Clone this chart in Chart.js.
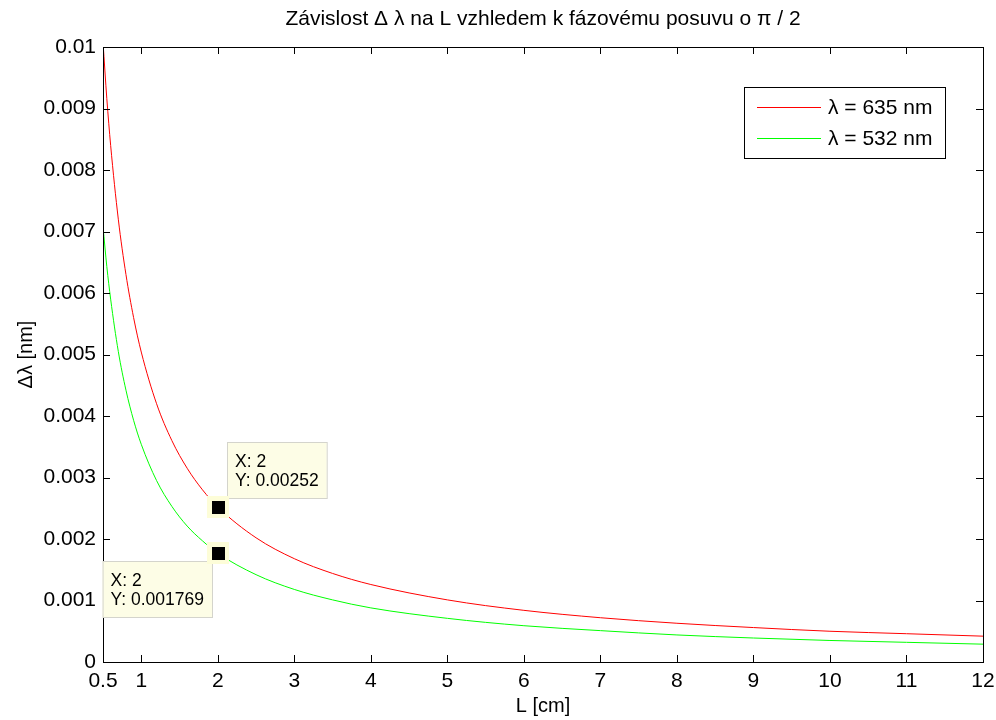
<!DOCTYPE html>
<html>
<head>
<meta charset="utf-8">
<script src="https://cdn.jsdelivr.net/npm/chart.js@4/dist/chart.umd.min.js"></script>
<style>
  html, body { margin: 0; padding: 0; background: #fff; }
  #wrap { width: 996px; height: 720px; }
</style>
</head>
<body>
<div id="wrap"><canvas id="myChart1" width="996" height="720"></canvas></div>
<script>
// L [cm]
const lengths = [0.5, 0.55, 0.6, 0.7, 0.8, 0.9, 1, 1.2, 1.4, 1.6, 1.8, 2, 2.5, 3, 3.5, 4, 5, 6, 7, 8, 9, 10, 11, 12];
// delta lambda [nm], 635 nm laser
const red635 = [0.01008, 0.00916, 0.0084, 0.0072, 0.0063, 0.0056, 0.00504, 0.0042, 0.0036, 0.00315, 0.0028, 0.00252,
    0.00202, 0.00168, 0.00144, 0.00126, 0.00101, 0.00084, 0.00072, 0.00063, 0.00056, 0.0005, 0.00046, 0.00042];
// delta lambda [nm], 532 nm laser
const green532 = [0.00708, 0.00643, 0.0059, 0.00505, 0.00442, 0.00393, 0.00354, 0.00295, 0.00253, 0.00221, 0.00197, 0.001769,
    0.00142, 0.00118, 0.00101, 0.00088, 0.00071, 0.00059, 0.00051, 0.00044, 0.00039, 0.00035, 0.00032, 0.00029];
const xTicks = [0.5, 1, 2, 3, 4, 5, 6, 7, 8, 9, 10, 11, 12];
const yTicks = [0, 0.001, 0.002, 0.003, 0.004, 0.005, 0.006, 0.007, 0.008, 0.009, 0.01];
// data tips at L = 2
const tipL = 2;

const FONT = '"Liberation Sans", Arial, sans-serif';
Chart.defaults.font.family = FONT;
Chart.defaults.color = '#000';

function toPoints(ys) {
    return lengths.map(function (x, i) { return { x: x, y: ys[i] }; });
}

// box, inner ticks, legend and data tips
const framePlugin = {
    id: 'frame',
    afterDatasetsDraw: function (chart) {
        const ctx = chart.ctx;
        const ca = chart.chartArea;
        const xs = chart.scales.x, ys = chart.scales.y;
        const tl = 7;
        ctx.save();
        ctx.strokeStyle = '#000';
        ctx.lineWidth = 1;
        ctx.beginPath();
        xTicks.forEach(function (v) {
            const px = Math.round(xs.getPixelForValue(v)) + 0.5;
            ctx.moveTo(px, ca.bottom); ctx.lineTo(px, ca.bottom - tl);
            ctx.moveTo(px, ca.top); ctx.lineTo(px, ca.top + tl);
        });
        yTicks.forEach(function (v) {
            const py = Math.round(ys.getPixelForValue(v)) + 0.5;
            ctx.moveTo(ca.left, py); ctx.lineTo(ca.left + tl, py);
            ctx.moveTo(ca.right, py); ctx.lineTo(ca.right - tl, py);
        });
        ctx.stroke();
        ctx.strokeRect(Math.round(ca.left) + 0.5, Math.round(ca.top) + 0.5,
            Math.round(ca.right - ca.left), Math.round(ca.bottom - ca.top));

        // legend
        const lx = ca.right - 239, ly = ca.top + 40, lw = 201, lh = 71;
        ctx.fillStyle = '#fff';
        ctx.fillRect(lx, ly, lw, lh);
        ctx.strokeRect(lx + 0.5, ly + 0.5, lw, lh);
        ctx.font = '21px ' + FONT;
        ctx.textBaseline = 'middle';
        chart.data.datasets.forEach(function (ds, i) {
            const y = ly + 20 + i * 31;
            ctx.strokeStyle = ds.borderColor;
            ctx.beginPath();
            ctx.moveTo(lx + 13, y + 0.5); ctx.lineTo(lx + 77, y + 0.5);
            ctx.stroke();
            ctx.fillStyle = '#000';
            ctx.fillText(ds.label, lx + 84, y + 1);
        });

        // data tips
        ctx.font = '17.5px ' + FONT;
        chart.data.datasets.forEach(function (ds, i) {
            const idx = lengths.indexOf(tipL);
            const val = ds.data[idx].y;
            const px = Math.round(xs.getPixelForValue(tipL));
            const py = Math.round(ys.getPixelForValue(val));
            const lines = ['X: ' + tipL, 'Y: ' + val];
            const w = Math.max.apply(null, lines.map(function (t) { return ctx.measureText(t).width; })) + 16;
            const h = 56;
            let bx, by;
            if (i === 0) { bx = px + 9; by = py - 65; }
            else { bx = px - 6 - w; by = py + 8; }
            ctx.fillStyle = '#fdfde6';
            ctx.fillRect(bx, by, w, h);
            ctx.strokeStyle = '#d4d4cc';
            ctx.strokeRect(bx + 0.5, by + 0.5, w, h);
            ctx.fillStyle = '#000';
            ctx.textBaseline = 'middle';
            ctx.fillText(lines[0], bx + 8, by + 20);
            ctx.fillText(lines[1], bx + 8, by + 39);
            ctx.fillStyle = '#fdfdd8';
            ctx.fillRect(px - 11, py - 11, 22, 22);
            ctx.fillStyle = '#000';
            ctx.fillRect(px - 6, py - 6, 13, 13);
        });
        ctx.restore();
    }
};

const data = {
    datasets: [{
        label: 'λ = 635 nm',
        data: toPoints(red635),
        borderColor: '#ff0000',
        borderWidth: 1,
        pointRadius: 0,
        cubicInterpolationMode: 'monotone'
    }, {
        label: 'λ = 532 nm',
        data: toPoints(green532),
        borderColor: '#00ff00',
        borderWidth: 1,
        pointRadius: 0,
        cubicInterpolationMode: 'monotone'
    }]
};

const config = {
    type: 'line',
    data: data,
    options: {
        responsive: false,
        animation: false,
        layout: { padding: { left: 0, right: 13, top: 0, bottom: 0 } },
        plugins: {
            legend: { display: false },
            tooltip: { enabled: false },
            title: {
                display: true,
                text: 'Závislost Δ λ na L vzhledem k fázovému posuvu o π / 2',
                fullSize: false,
                font: { size: 21, weight: 'normal', lineHeight: 1.2 },
                padding: { top: 7, bottom: 14.8 }
            }
        },
        scales: {
            x: {
                type: 'linear',
                min: 0.5,
                max: 12,
                afterBuildTicks: function (scale) {
                    scale.ticks = xTicks.map(function (v) { return { value: v }; });
                },
                afterFit: function (scale) {
                    scale.height = 58;
                    scale.paddingLeft = 0;
                    scale.paddingRight = 0;
                },
                grid: { display: false, drawTicks: false },
                border: { display: false },
                ticks: {
                    autoSkip: false,
                    maxRotation: 0,
                    padding: 7,
                    font: { size: 21 },
                    callback: function (v) { return String(v); }
                },
                title: {
                    display: true,
                    text: 'L [cm]',
                    font: { size: 20, lineHeight: 1.2 },
                    padding: { top: 0, bottom: 2 }
                }
            },
            y: {
                min: 0,
                max: 0.01,
                afterBuildTicks: function (scale) {
                    scale.ticks = yTicks.map(function (v) { return { value: v }; });
                },
                afterFit: function (scale) { scale.width = 103; },
                grid: { display: false, drawTicks: false },
                border: { display: false },
                ticks: {
                    padding: 7,
                    font: { size: 21 },
                    callback: function (v) { return String(+v.toFixed(3)); }
                },
                title: {
                    display: true,
                    text: 'Δλ [nm]',
                    font: { size: 20, lineHeight: 1.2 },
                    padding: { top: 14, bottom: 0 }
                }
            }
        }
    },
    plugins: [framePlugin]
};

let c = document.getElementById('myChart1').getContext('2d');
var curchart = new Chart(c, config);
</script>
</body>
</html>
